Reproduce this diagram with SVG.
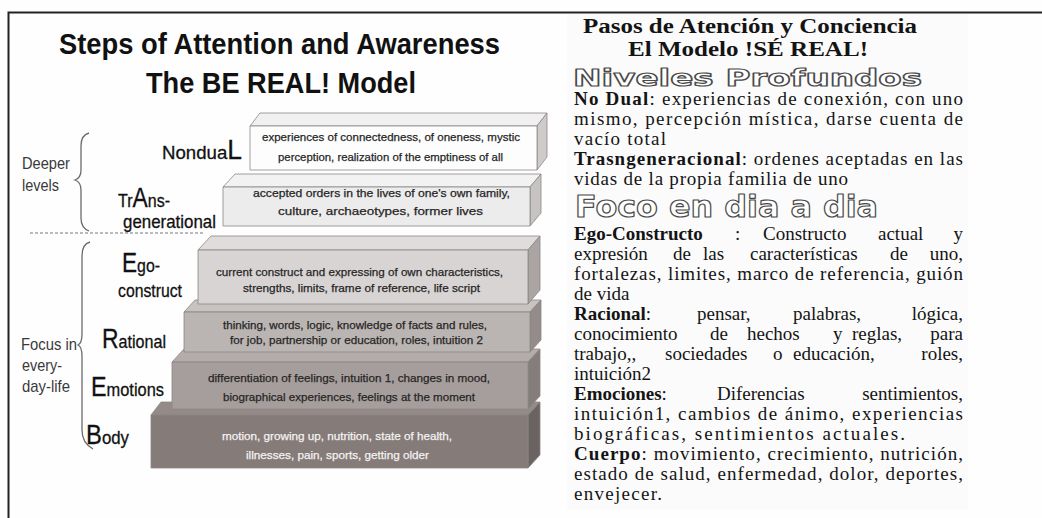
<svg xmlns="http://www.w3.org/2000/svg" width="1042" height="518" viewBox="0 0 1042 518">
<style>
.ttl{font-family:"Liberation Sans",Arial,sans-serif;font-weight:bold;font-size:29px;fill:#111}
.lbl{font-family:"Liberation Sans",Arial,sans-serif;font-size:19px;fill:#111;stroke:#111;stroke-width:0.3}
.big{font-size:27px}
.side{font-family:"Liberation Sans",Arial,sans-serif;font-size:17px;fill:#3a3a3a}
.bt{font-family:"Liberation Sans",Arial,sans-serif;font-size:11.5px;fill:#262626;stroke:#262626;stroke-width:0.25}
.wt{fill:#f4f2f2;stroke:#f4f2f2}
.edge{stroke:#8a8685;stroke-width:0.8;stroke-linejoin:round}
.es{font-family:"Liberation Serif","Times New Roman",serif;font-size:19px;fill:#141414}
.b{font-weight:bold}
.hd{font-family:"Liberation Serif","Times New Roman",serif;font-size:20px;font-weight:bold;fill:#141414}
.hol{font-family:"DejaVu Sans",Verdana,sans-serif;font-weight:bold;fill:#fff;stroke:#4a4a4a;stroke-width:1.2;stroke-linejoin:round}
.br{fill:none;stroke:#6a6a6a;stroke-width:1.3}
</style>
<rect x="0" y="0" width="1042" height="518" fill="#fefefe"/>
<rect x="567" y="14" width="401" height="496" fill="#fbfbfb"/>
<path d="M8.5 518 L8.5 12.5 L1042 12.5" fill="none" stroke="#222" stroke-width="2"/>

<g id="title">
<text class="ttl" x="59" y="54" textLength="441" lengthAdjust="spacingAndGlyphs">Steps of Attention and Awareness</text>
<text class="ttl" x="146" y="93" textLength="270" lengthAdjust="spacingAndGlyphs">The BE REAL! Model</text>
</g>

<g id="groups">
<text class="side" x="22" y="169" textLength="48" lengthAdjust="spacingAndGlyphs">Deeper</text>
<text class="side" x="22" y="191" textLength="37" lengthAdjust="spacingAndGlyphs">levels</text>
<path class="br" d="M89 133 Q81 135 81 146 L81 170 Q81 178 75 180 Q81 182 81 190 L81 218 Q81 228 89 231"/>
<line x1="30" y1="233" x2="205" y2="233" stroke="#777" stroke-width="1" stroke-dasharray="3,2"/>
<text class="side" x="21" y="350" textLength="56" lengthAdjust="spacingAndGlyphs">Focus in</text>
<text class="side" x="22" y="371" textLength="40" lengthAdjust="spacingAndGlyphs">every-</text>
<text class="side" x="22" y="392" textLength="48" lengthAdjust="spacingAndGlyphs">day-life</text>
<path class="br" d="M90 242 Q82 244 82 256 L82 334 Q82 343 78 345 Q82 347 82 356 L82 430 Q82 443 93 449"/>
</g>

<g id="body">
<polygon class="edge" points="151,415 161,402 540,402 528,415" fill="#948b89"/>
<polygon class="edge" points="528,415 540,402 540,455 528,468" fill="#6b6361"/>
<rect class="edge" x="151" y="415" width="377" height="53" fill="#857b79"/>
<text class="lbl" x="86" y="444" textLength="43" lengthAdjust="spacingAndGlyphs"><tspan class="big">B</tspan>ody</text>
<text class="bt wt" x="222" y="440" textLength="230" lengthAdjust="spacingAndGlyphs">motion, growing up, nutrition, state of health,</text>
<text class="bt wt" x="246" y="459" textLength="183" lengthAdjust="spacingAndGlyphs">illnesses, pain, sports, getting older</text>
</g>

<g id="emotions">
<polygon class="edge" points="172,362 184,349 540,349 528,362" fill="#b3acaa"/>
<polygon class="edge" points="528,362 540,349 540,396 528,409" fill="#857d7b"/>
<rect class="edge" x="172" y="362" width="356" height="47" fill="#a69e9c"/>
<text class="lbl" x="91" y="396" textLength="73" lengthAdjust="spacingAndGlyphs"><tspan class="big">E</tspan>motions</text>
<text class="bt" x="208" y="382" textLength="282" lengthAdjust="spacingAndGlyphs">differentiation of feelings, intuition 1, changes in mood,</text>
<text class="bt" x="223" y="401" textLength="252" lengthAdjust="spacingAndGlyphs">biographical experiences, feelings at the moment</text>
</g>

<g id="rational">
<polygon class="edge" points="184,312 195,300 541,300 530,312" fill="#c8c2c1"/>
<polygon class="edge" points="530,312 541,300 541,340 530,352" fill="#948c8b"/>
<rect class="edge" x="184" y="312" width="346" height="40" fill="#bab4b2"/>
<text class="lbl" x="102" y="348" textLength="64" lengthAdjust="spacingAndGlyphs"><tspan class="big">R</tspan>ational</text>
<text class="bt" x="223" y="329" textLength="264" lengthAdjust="spacingAndGlyphs">thinking, words, logic, knowledge of facts and rules,</text>
<text class="bt" x="230" y="344" textLength="253" lengthAdjust="spacingAndGlyphs">for job, partnership or education, roles, intuition 2</text>
</g>

<g id="ego">
<polygon class="edge" points="198,250 211,236 540,236 528,250" fill="#e0dcdb"/>
<polygon class="edge" points="528,250 540,236 540,290 528,304" fill="#aaa4a3"/>
<rect class="edge" x="198" y="250" width="330" height="54" fill="#d8d4d3"/>
<text class="lbl" x="122" y="272" textLength="38" lengthAdjust="spacingAndGlyphs"><tspan class="big">E</tspan>go-</text>
<text class="lbl" x="118" y="297" textLength="64" lengthAdjust="spacingAndGlyphs">construct</text>
<text class="bt" x="216" y="276" textLength="287" lengthAdjust="spacingAndGlyphs">current construct and expressing of own characteristics,</text>
<text class="bt" x="243" y="292" textLength="237" lengthAdjust="spacingAndGlyphs">strengths, limits, frame of reference, life script</text>
</g>

<g id="transgenerational">
<polygon class="edge" points="223,187 235,174 541,174 530,187" fill="#f2f2f2"/>
<polygon class="edge" points="530,187 541,174 541,213 530,226" fill="#c7c3c2"/>
<rect class="edge" x="223" y="187" width="307" height="39" fill="#ececec"/>
<text class="lbl" x="118" y="207" textLength="52" lengthAdjust="spacingAndGlyphs">Tr<tspan class="big">A</tspan>ns-</text>
<text class="lbl" x="123" y="228" textLength="93" lengthAdjust="spacingAndGlyphs">generational</text>
<text class="bt" x="253" y="197" textLength="257" lengthAdjust="spacingAndGlyphs">accepted orders in the lives of one's own family,</text>
<text class="bt" x="278" y="215" textLength="205" lengthAdjust="spacingAndGlyphs">culture, archaeotypes, former lives</text>
</g>

<g id="nondual">
<polygon class="edge" points="250,126 260,113 547,113 537,126" fill="#f0f0f0"/>
<polygon class="edge" points="537,126 547,113 547,157 537,170" fill="#cfcbca"/>
<rect class="edge" x="250" y="126" width="287" height="44" fill="#fdfdfd"/>
<text class="lbl" x="162" y="159" textLength="80" lengthAdjust="spacingAndGlyphs">Nondua<tspan class="big">L</tspan></text>
<text class="bt" x="262" y="141" textLength="258" lengthAdjust="spacingAndGlyphs">experiences of connectedness, of oneness, mystic</text>
<text class="bt" x="278" y="161" textLength="225" lengthAdjust="spacingAndGlyphs">perception, realization of the emptiness of all</text>
</g>

<g id="spanish">
<text class="hd" x="583" y="33" textLength="334" lengthAdjust="spacingAndGlyphs">Pasos de Atención y Conciencia</text>
<text class="hd" x="628" y="56" textLength="240" lengthAdjust="spacingAndGlyphs">El Modelo !SÉ REAL!</text>
<text class="hol" x="573" y="86" font-size="23" textLength="349" lengthAdjust="spacingAndGlyphs">Niveles Profundos</text>
<text class="es" x="574" y="105" textLength="389" lengthAdjust="spacing"><tspan class="b">No Dual</tspan>: experiencias de conexión, con uno</text>
<text class="es" x="574" y="125" textLength="389" lengthAdjust="spacing">mismo, percepción mística, darse cuenta de</text>
<text class="es" x="574" y="145" textLength="92" lengthAdjust="spacing">vacío total</text>
<text class="es" x="574" y="165" textLength="389" lengthAdjust="spacing"><tspan class="b">Trasngeneracional</tspan>: ordenes aceptadas en las</text>
<text class="es" x="574" y="185" textLength="274" lengthAdjust="spacing">vidas de la propia familia de uno</text>
<text class="hol" x="575" y="217" font-size="31" textLength="303" lengthAdjust="spacingAndGlyphs">Foco en dia a dia</text>
<text class="es" y="240"><tspan class="b" x="574">Ego-Constructo</tspan><tspan x="735">:</tspan><tspan x="763">Constructo</tspan><tspan x="878">actual</tspan></text>
<text class="es" x="963" y="240" text-anchor="end">y</text>
<text class="es" y="260"><tspan x="574">expresión</tspan><tspan x="673">de</tspan><tspan x="703">las</tspan><tspan x="750">características</tspan><tspan x="890">de</tspan></text>
<text class="es" x="963" y="260" text-anchor="end">uno,</text>
<text class="es" x="574" y="280" textLength="389" lengthAdjust="spacing">fortalezas, limites, marco de referencia, guión</text>
<text class="es" x="574" y="300">de vida</text>
<text class="es" y="320"><tspan x="574"><tspan class="b">Racional</tspan>:</tspan><tspan x="697">pensar,</tspan><tspan x="793">palabras,</tspan></text>
<text class="es" x="963" y="320" text-anchor="end">lógica,</text>
<text class="es" y="340"><tspan x="574">conocimiento</tspan><tspan x="710">de</tspan><tspan x="747">hechos</tspan><tspan x="833">y</tspan><tspan x="852">reglas,</tspan></text>
<text class="es" x="963" y="340" text-anchor="end">para</text>
<text class="es" y="360"><tspan x="574">trabajo,,</tspan><tspan x="665">sociedades</tspan><tspan x="773">o</tspan><tspan x="793">educación,</tspan></text>
<text class="es" x="963" y="360" text-anchor="end">roles,</text>
<text class="es" x="574" y="380">intuición2</text>
<text class="es" y="400"><tspan x="574"><tspan class="b">Emociones</tspan>:</tspan><tspan x="717">Diferencias</tspan></text>
<text class="es" x="963" y="400" text-anchor="end">sentimientos,</text>
<text class="es" x="574" y="420" textLength="389" lengthAdjust="spacing">intuición1, cambios de ánimo, experiencias</text>
<text class="es" x="574" y="440" textLength="331" lengthAdjust="spacing">biográficas, sentimientos actuales.</text>
<text class="es" x="574" y="460" textLength="389" lengthAdjust="spacing"><tspan class="b">Cuerpo</tspan>: movimiento, crecimiento, nutrición,</text>
<text class="es" x="574" y="480" textLength="389" lengthAdjust="spacing">estado de salud, enfermedad, dolor, deportes,</text>
<text class="es" x="574" y="500" textLength="88" lengthAdjust="spacing">envejecer.</text>
</g>
</svg>
